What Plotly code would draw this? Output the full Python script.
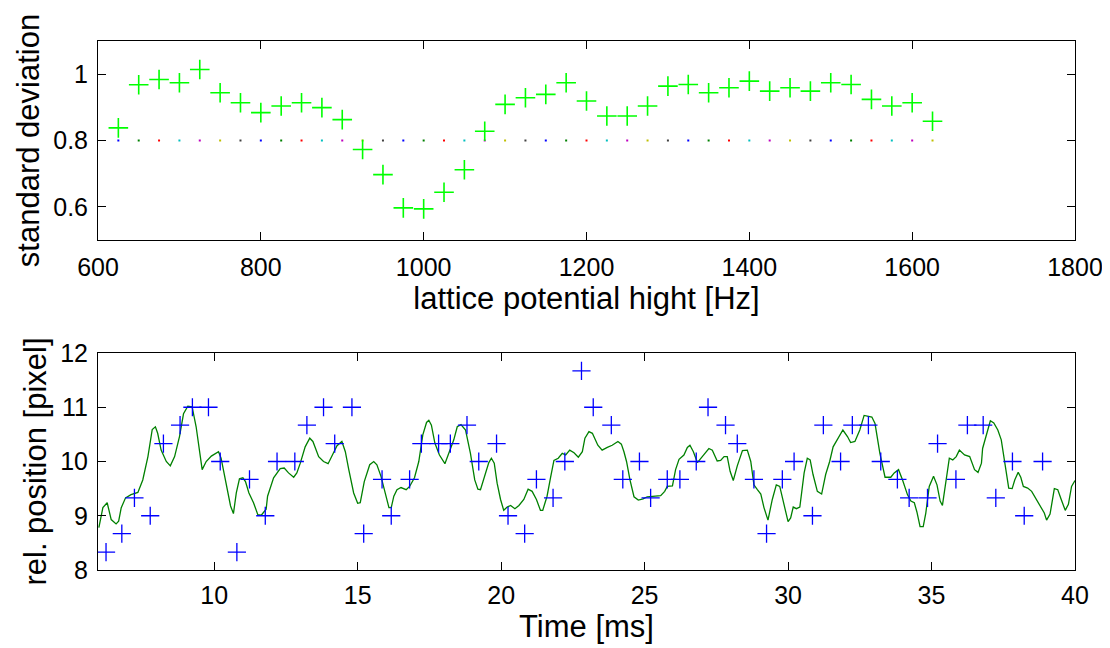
import plotly.graph_objects as go

# ---------------- data ----------------
# top panel: standard deviation vs lattice potential height
lattice_hz = [625, 650, 675, 700, 725, 750, 775, 800, 825, 850, 875, 900, 925, 950,
              975, 1000, 1025, 1050, 1075, 1100, 1125, 1150, 1175, 1200, 1225, 1250,
              1275, 1300, 1325, 1350, 1375, 1400, 1425, 1450, 1475, 1500, 1525, 1550,
              1575, 1600, 1625]
std_dev = [0.838, 0.968, 0.984, 0.974, 1.014, 0.944, 0.914, 0.884, 0.904, 0.914, 0.899,
           0.863, 0.773, 0.697, 0.597, 0.594, 0.644, 0.712, 0.828, 0.909, 0.929, 0.939,
           0.974, 0.919, 0.874, 0.874, 0.904, 0.964, 0.969, 0.944, 0.959, 0.979, 0.949,
           0.959, 0.949, 0.974, 0.969, 0.924, 0.904, 0.914, 0.858]
ref_level = [0.8] * len(lattice_hz)
dot_colors = ["#0000ff", "#008000", "#ff0000", "#00bfbf", "#bf00bf", "#bfbf00", "#404040"]

# bottom panel: measured positions (blue +)
meas_t = [6.23, 6.78, 7.22, 7.77, 8.23, 8.81, 9.24, 9.80, 10.21, 10.79, 11.23, 11.78,
          12.19, 12.81, 13.23, 13.81, 14.20, 14.80, 15.21, 15.85, 16.17, 16.81, 17.22,
          17.82, 18.23, 18.81, 19.22, 19.84, 20.24, 20.82, 21.23, 21.81, 22.22, 22.80,
          23.21, 23.84, 24.24, 24.82, 25.21, 25.79, 26.23, 26.80, 27.21, 27.82, 28.23,
          28.81, 29.25, 29.80, 30.21, 30.85, 31.23, 31.83, 32.24, 32.80, 33.23, 33.81,
          34.22, 34.86, 35.21, 35.85, 36.25, 36.80, 37.24, 37.82, 38.23, 38.87]
meas_pos = [8.33, 8.67, 9.33, 9.00, 10.33, 10.67, 11.00, 11.00, 10.00, 8.33, 9.67, 9.00,
            10.00, 10.00, 10.67, 11.00, 10.33, 11.00, 8.67, 9.67, 9.00, 9.67, 10.33,
            10.33, 10.33, 10.67, 10.00, 10.33, 9.00, 8.67, 9.67, 9.33, 10.00, 11.67,
            11.00, 10.67, 9.67, 10.00, 9.33, 9.67, 9.67, 10.00, 11.00, 10.67, 10.33,
            9.67, 8.67, 9.67, 10.00, 9.00, 10.67, 10.00, 10.67, 10.67, 10.00, 9.67,
            9.33, 9.33, 10.33, 9.67, 10.67, 10.67, 9.33, 10.00, 9.00, 10.00]

# bottom panel: smoothed trace (green line)
trace_t = [5.98, 6.12, 6.27, 6.41, 6.58, 6.67, 6.76, 6.91, 7.10, 7.34, 7.51, 7.69, 7.84,
           7.95, 8.03, 8.15, 8.33, 8.47, 8.62, 8.79, 8.93, 9.08, 9.23, 9.37, 9.58, 9.72,
           9.90, 10.15, 10.24, 10.42, 10.57, 10.67, 10.77, 10.88, 11.00, 11.09, 11.21,
           11.37, 11.52, 11.64, 11.81, 11.86, 12.07, 12.30, 12.44, 12.59, 12.77, 12.88,
           13.00, 13.17, 13.33, 13.44, 13.64, 13.81, 13.97, 14.12, 14.28, 14.45, 14.57,
           14.69, 14.86, 15.00, 15.09, 15.23, 15.42, 15.56, 15.67, 15.81, 15.97, 16.09,
           16.17, 16.26, 16.37, 16.51, 16.69, 16.81, 16.98, 17.13, 17.27, 17.40, 17.48,
           17.57, 17.69, 17.85, 18.04, 18.18, 18.35, 18.47, 18.60, 18.76, 18.93, 19.08,
           19.19, 19.28, 19.45, 19.57, 19.66, 19.76, 19.86, 19.98, 20.09, 20.21, 20.33,
           20.48, 20.62, 20.79, 20.94, 21.08, 21.23, 21.37, 21.45, 21.60, 21.72, 21.84,
           21.99, 22.13, 22.25, 22.39, 22.54, 22.69, 22.83, 22.92, 23.06, 23.18, 23.37,
           23.52, 23.70, 23.87, 24.07, 24.19, 24.28, 24.37, 24.49, 24.63, 24.78, 24.95,
           25.09, 25.33, 25.56, 25.70, 25.79, 25.97, 26.08, 26.20, 26.37, 26.49, 26.58,
           26.70, 26.84, 27.01, 27.24, 27.36, 27.53, 27.65, 27.77, 27.88, 27.98, 28.09,
           28.23, 28.41, 28.58, 28.70, 28.81, 28.93, 29.05, 29.16, 29.30, 29.45, 29.59,
           29.71, 29.86, 30.00, 30.09, 30.18, 30.29, 30.41, 30.56, 30.67, 30.77, 30.87,
           31.02, 31.17, 31.31, 31.45, 31.57, 31.72, 31.91, 32.07, 32.18, 32.33, 32.50,
           32.65, 32.77, 32.92, 33.03, 33.20, 33.38, 33.58, 33.70, 33.85, 33.99, 34.16,
           34.28, 34.40, 34.49, 34.60, 34.71, 34.80, 34.92, 35.07, 35.19, 35.30, 35.38,
           35.50, 35.62, 35.74, 35.86, 35.97, 36.15, 36.33, 36.50, 36.62, 36.74, 36.78,
           36.90, 37.05, 37.17, 37.31, 37.43, 37.55, 37.69, 37.81, 37.90, 38.02, 38.11,
           38.20, 38.35, 38.49, 38.63, 38.78, 38.93, 39.01, 39.13, 39.28, 39.40, 39.52,
           39.66, 39.77, 39.88, 40.00]
trace_pos = [8.78, 9.15, 9.24, 8.93, 8.85, 8.90, 9.15, 9.33, 9.39, 9.43, 9.66, 10.09, 10.59,
             10.64, 10.52, 10.21, 10.00, 9.92, 10.09, 10.46, 10.88, 11.02, 11.01, 10.64,
             9.85, 10.00, 10.10, 10.18, 10.06, 9.57, 9.18, 9.04, 9.42, 9.68, 9.70, 9.63,
             9.42, 9.24, 9.02, 9.01, 9.12, 9.36, 9.70, 9.87, 9.88, 9.79, 9.71, 9.79, 9.97,
             10.27, 10.43, 10.37, 10.09, 10.00, 9.96, 10.12, 10.29, 10.37, 10.18, 9.85,
             9.42, 9.23, 9.24, 9.63, 9.94, 10.00, 9.94, 9.73, 9.42, 9.15, 9.15, 9.36,
             9.48, 9.52, 9.48, 9.54, 9.70, 10.00, 10.49, 10.72, 10.76, 10.67, 10.34,
             10.12, 9.96, 10.15, 10.40, 10.64, 10.68, 10.58, 10.15, 9.66, 9.49, 9.48,
             9.76, 9.98, 10.06, 9.97, 9.60, 9.30, 9.10, 9.16, 9.19, 9.13, 9.19, 9.30,
             9.49, 9.45, 9.30, 9.10, 9.10, 9.36, 9.70, 10.02, 10.06, 10.15, 10.12, 10.21,
             10.16, 10.08, 10.18, 10.43, 10.55, 10.52, 10.30, 10.21, 10.26, 10.30, 10.37,
             10.32, 10.18, 10.00, 9.66, 9.35, 9.29, 9.31, 9.35, 9.36, 9.37, 9.45, 9.54,
             9.55, 9.85, 10.04, 10.12, 10.26, 10.30, 10.18, 9.98, 10.09, 10.24, 10.21,
             10.01, 10.02, 10.09, 10.09, 9.82, 9.65, 9.92, 10.20, 10.21, 10.00, 9.57,
             9.48, 9.40, 9.15, 8.92, 9.30, 9.57, 9.54, 9.18, 8.89, 8.96, 9.16, 9.13, 9.16,
             9.79, 10.06, 10.03, 9.76, 9.45, 9.40, 9.76, 10.00, 10.27, 10.40, 10.58, 10.46,
             10.35, 10.37, 10.58, 10.85, 10.84, 10.82, 10.70, 10.15, 9.71, 9.71, 9.79,
             9.85, 9.66, 9.39, 9.27, 9.24, 9.07, 8.80, 8.80, 9.05, 9.54, 9.73, 9.57, 9.27,
             9.19, 9.66, 10.06, 10.03, 10.09, 10.21, 10.12, 10.09, 9.85, 9.80, 9.97, 10.24,
             10.46, 10.75, 10.71, 10.58, 10.40, 9.97, 9.51, 9.50, 9.66, 9.80, 9.71, 9.54,
             9.51, 9.45, 9.33, 9.18, 9.05, 8.92, 9.03, 9.50, 9.48, 9.30, 9.10, 9.21, 9.54,
             9.65]

top_xticks = [600, 800, 1000, 1200, 1400, 1600, 1800]
top_yticks = [0.6, 0.8, 1.0]
top_yticklabels = ["0.6", "0.8", "1"]
bot_xticks = [10, 15, 20, 25, 30, 35, 40]
bot_yticks = [8, 9, 10, 11, 12]

# ---------------- figure ----------------
FONT = "Liberation Sans, Arial, Helvetica, sans-serif"
fig = go.Figure()

fig.add_trace(go.Scatter(
    x=lattice_hz, y=ref_level, mode="markers", xaxis="x", yaxis="y",
    marker=dict(symbol="square", size=2,
                color=[dot_colors[i % len(dot_colors)] for i in range(len(lattice_hz))],
                line=dict(width=0)),
    showlegend=False, hoverinfo="skip"))
fig.add_trace(go.Scatter(
    x=lattice_hz, y=std_dev, mode="markers", xaxis="x", yaxis="y",
    marker=dict(symbol="cross-thin", size=14, line=dict(color="#00ff00", width=1.6)),
    showlegend=False))

fig.add_trace(go.Scatter(
    x=trace_t, y=trace_pos, mode="lines", xaxis="x2", yaxis="y2",
    line=dict(color="#008000", width=1.3), showlegend=False))
fig.add_trace(go.Scatter(
    x=meas_t, y=meas_pos, mode="markers", xaxis="x2", yaxis="y2",
    marker=dict(symbol="cross-thin", size=13, line=dict(color="#0000ff", width=1.3)),
    showlegend=False))

axis_common = dict(showline=True, linecolor="black", linewidth=1, mirror="ticks",
                   ticks="inside", ticklen=8, tickwidth=1, tickcolor="black",
                   showgrid=False, zeroline=False, automargin=False,
                   tickfont=dict(family=FONT, size=25, color="black"))
title_font = dict(family=FONT, size=31, color="black")

fig.update_layout(
    width=1102, height=640,
    margin=dict(l=90, r=35, t=33, b=78),
    paper_bgcolor="white", plot_bgcolor="white",
    xaxis=dict(domain=[0, 1], anchor="y", range=[600, 1800], tickmode="array",
               tickvals=top_xticks, ticklabelstandoff=5,
               title=dict(text="lattice potential hight [Hz]", font=title_font, standoff=6),
               **axis_common),
    yaxis=dict(domain=[0.6238, 1], anchor="x", range=[0.5, 1.1], tickmode="array",
               tickvals=top_yticks, ticktext=top_yticklabels, ticklabelstandoff=4,
               title=dict(text="standard deviation", font=title_font, standoff=4),
               **axis_common),
    xaxis2=dict(domain=[0, 1], anchor="y2", range=[5.95, 40], tickmode="array",
                tickvals=bot_xticks, ticklabelstandoff=3,
                title=dict(text="Time [ms]", font=title_font, standoff=2),
                **axis_common),
    yaxis2=dict(domain=[0, 0.4102], anchor="x2", range=[8, 12], tickmode="array",
                tickvals=bot_yticks, ticklabelstandoff=4,
                title=dict(text="rel. position [pixel]", font=title_font, standoff=4),
                **axis_common),
)

fig.write_html("out.html")
